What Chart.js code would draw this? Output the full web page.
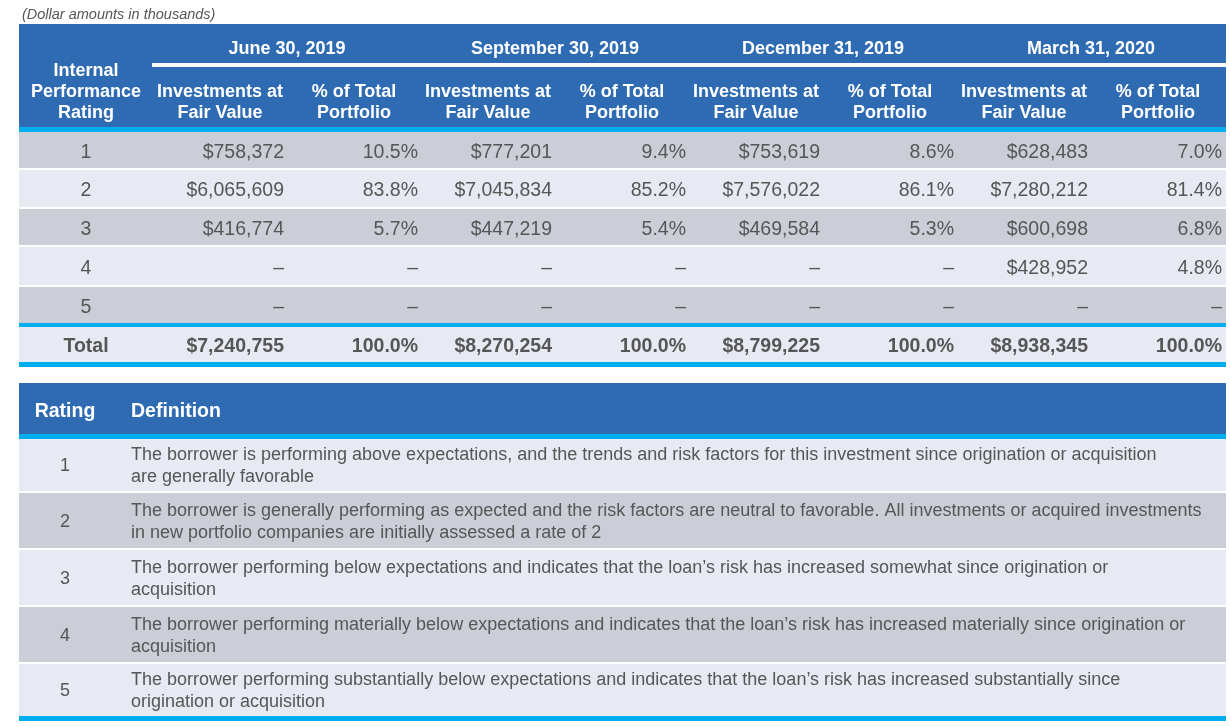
<!DOCTYPE html>
<html>
<head>
<meta charset="utf-8">
<title>Internal Performance Rating</title>
<script src="https://cdn.jsdelivr.net/npm/chart.js@4.4.1/dist/chart.umd.min.js"></script>
<style>
  html, body { margin: 0; padding: 0; background: #fff; }
  canvas { display: block; }
</style>
</head>
<body>
<canvas id="ratingTable" width="1230" height="726"></canvas>
<script>
// Values in thousands of dollars, read from the filing
const ratings = ['1', '2', '3', '4', '5'];
const periods = ['June 30, 2019', 'September 30, 2019', 'December 31, 2019', 'March 31, 2020'];

const fairValueJun19 = [758372, 6065609, 416774, null, null];
const fairValueSep19 = [777201, 7045834, 447219, null, null];
const fairValueDec19 = [753619, 7576022, 469584, null, null];
const fairValueMar20 = [628483, 7280212, 600698, 428952, null];

const pctJun19 = [10.5, 83.8, 5.7, null, null];
const pctSep19 = [9.4, 85.2, 5.4, null, null];
const pctDec19 = [8.6, 86.1, 5.3, null, null];
const pctMar20 = [7.0, 81.4, 6.8, 4.8, null];

const totalFairValue = [7240755, 8270254, 8799225, 8938345];
const totalPct = [100.0, 100.0, 100.0, 100.0];

const definitions = [
    ['The borrower is performing above expectations, and the trends and risk factors for this investment since origination or acquisition',
     'are generally favorable'],
    ['The borrower is generally performing as expected and the risk factors are neutral to favorable. All investments or acquired investments',
     'in new portfolio companies are initially assessed a rate of 2'],
    ['The borrower performing below expectations and indicates that the loan\u2019s risk has increased somewhat since origination or',
     'acquisition'],
    ['The borrower performing materially below expectations and indicates that the loan\u2019s risk has increased materially since origination or',
     'acquisition'],
    ['The borrower performing substantially below expectations and indicates that the loan\u2019s risk has increased substantially since',
     'origination or acquisition']
];

const fairValues = [fairValueJun19, fairValueSep19, fairValueDec19, fairValueMar20];
const percents = [pctJun19, pctSep19, pctDec19, pctMar20];

// Colours
const BLUE = '#2e6bb2';
const CYAN = '#00adef';
const ROW_DARK = '#cbced6';
const ROW_LIGHT = '#e7eaf2';
const TEXT = '#565656';
const FONT = '"Liberation Sans", Arial, sans-serif';

const fmtMoney = v => v == null ? '\u2013' : '$' + v.toLocaleString('en-US');
const fmtPct = v => v == null ? '\u2013' : v.toFixed(1) + '%';

// Draws both tables, placing everything through the chart's x / y scales
const tablePlugin = {
    id: 'ratingTable',
    afterDraw(chart) {
        const { ctx } = chart;
        const xs = chart.scales.x;
        const ys = chart.scales.y;
        const X = v => xs.getPixelForValue(v);
        const Y = v => ys.getPixelForValue(v);

        const box = (x0, y0, x1, y1, color) => {
            ctx.fillStyle = color;
            ctx.fillRect(X(x0), Y(y0), X(x1) - X(x0), Y(y1) - Y(y0));
        };
        // canvas 'middle' sits a little high for this font, nudge down
        const label = (str, x, y, align, font, color) => {
            ctx.font = font;
            ctx.fillStyle = color;
            ctx.textAlign = align;
            ctx.textBaseline = 'middle';
            ctx.fillText(str, X(x), Y(y + 1.5));
        };

        ctx.save();

        // Note above the table
        label('(Dollar amounts in thousands)', 22, 13, 'left', 'italic 14.5px ' + FONT, TEXT);

        // ---- Table 1 ----
        const left = 19, right = 1226;
        const groupStart = 152, groupWidth = 268;
        const headBold = 'bold 18px ' + FONT;

        box(left, 24, right, 127, BLUE);
        box(groupStart, 63, right, 67, '#ffffff');
        box(left, 127, right, 132, CYAN);

        label('Internal', 86, 70, 'center', headBold, '#fff');
        label('Performance', 86, 91, 'center', headBold, '#fff');
        label('Rating', 86, 112, 'center', headBold, '#fff');

        periods.forEach((p, g) => {
            const gx = groupStart + g * groupWidth;
            label(p, gx + 135, 48, 'center', headBold, '#fff');
            label('Investments at', gx + 68, 91, 'center', headBold, '#fff');
            label('Fair Value', gx + 68, 112, 'center', headBold, '#fff');
            label('% of Total', gx + 202, 91, 'center', headBold, '#fff');
            label('Portfolio', gx + 202, 112, 'center', headBold, '#fff');
        });

        const rowTops = [132, 170, 209, 247, 287];
        const rowBottoms = [168, 207, 245, 285, 323];
        const cellFont = '19.5px ' + FONT;

        ratings.forEach((r, i) => {
            box(left, rowTops[i], right, rowBottoms[i], i % 2 === 0 ? ROW_DARK : ROW_LIGHT);
            const cy = (rowTops[i] + rowBottoms[i]) / 2 + 1;
            label(r, 86, cy, 'center', cellFont, TEXT);
            periods.forEach((p, g) => {
                const gx = g * groupWidth;
                label(fmtMoney(fairValues[g][i]), 284 + gx, cy, 'right', cellFont, TEXT);
                label(fmtPct(percents[g][i]), 418 + gx, cy, 'right', cellFont, TEXT);
            });
        });

        box(left, 323, right, 327, CYAN);
        box(left, 327, right, 362, ROW_LIGHT);
        box(left, 362, right, 367, CYAN);
        const totalFont = 'bold 19.5px ' + FONT;
        label('Total', 86, 345, 'center', totalFont, TEXT);
        totalFairValue.forEach((v, g) => {
            label(fmtMoney(v), 284 + g * groupWidth, 345, 'right', totalFont, TEXT);
            label(fmtPct(totalPct[g]), 418 + g * groupWidth, 345, 'right', totalFont, TEXT);
        });

        // ---- Table 2 ----
        box(left, 383, right, 434, BLUE);
        box(left, 434, right, 439, CYAN);
        label('Rating', 65, 410, 'center', 'bold 19.5px ' + FONT, '#fff');
        label('Definition', 131, 410, 'left', 'bold 19.5px ' + FONT, '#fff');

        const defTops = [439, 493, 550, 607, 664];
        const defBottoms = [491, 548, 605, 662, 716];
        const defFont = '18px ' + FONT;

        ratings.forEach((r, i) => {
            box(left, defTops[i], right, defBottoms[i], i % 2 === 0 ? ROW_LIGHT : ROW_DARK);
            const cy = (defTops[i] + defBottoms[i]) / 2;
            label(r, 65, cy, 'center', defFont, TEXT);
            definitions[i].forEach((line, k) => {
                label(line, 131, cy - 11 + k * 22, 'left', defFont, TEXT);
            });
        });
        box(left, 716, right, 721, CYAN);

        ctx.restore();
    }
};

new Chart(document.getElementById('ratingTable'), {
    type: 'scatter',
    data: { datasets: [] },
    options: {
        responsive: false,
        animation: false,
        layout: { padding: 0 },
        plugins: {
            legend: { display: false },
            tooltip: { enabled: false }
        },
        scales: {
            x: { type: 'linear', min: 0, max: 1230, display: false },
            y: { type: 'linear', min: 0, max: 726, reverse: true, display: false }
        }
    },
    plugins: [tablePlugin]
});
</script>
</body>
</html>
